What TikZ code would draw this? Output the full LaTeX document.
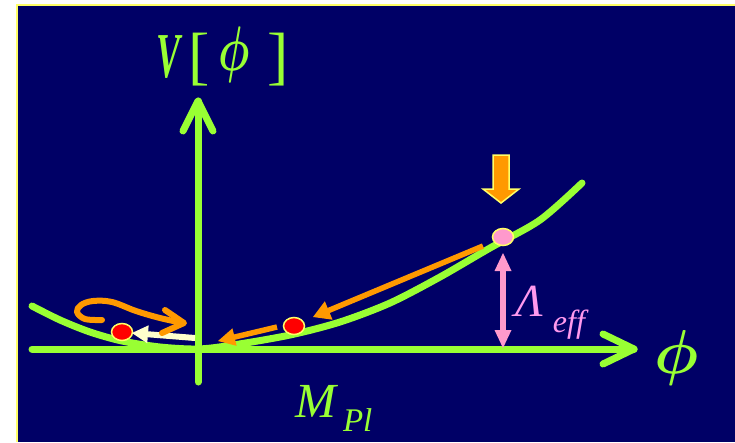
\documentclass[tikz,border=0pt]{standalone}
\usepackage{graphicx}
\usepackage{fontspec}
\setmainfont{Liberation Serif}
\DeclareFontShape{OML}{cmm}{m}{it}{<-> cmmi10}{}
\DeclareFontShape{OML}{cmm}{b}{it}{<-> cmmib10}{}
\newcommand{\bphi}{{\usefont{OML}{cmm}{b}{it}\char"1E}}
\usetikzlibrary{shapes.geometric,calc}
\definecolor{navy}{HTML}{000066}
\definecolor{lime}{HTML}{99FF33}
\definecolor{orng}{HTML}{FF9900}
\definecolor{pinkc}{HTML}{FF99CC}
\definecolor{pinktxt}{HTML}{FF99EE}
\definecolor{cream}{HTML}{FFFFCC}
\definecolor{yel}{HTML}{FFFF66}
\definecolor{redc}{HTML}{FF0000}
% filled triangular head: colour, tip, from, length, half width
\newcommand{\arrowhd}[5]{%
  \coordinate (tmpb) at ($(#2)!#4!(#3)$);
  \fill[#1] (#2) -- ($(tmpb)!#5!90:(#2)$) -- ($(tmpb)!#5!-90:(#2)$) -- cycle;}
\begin{document}
\begin{tikzpicture}[x=1pt,y=-1pt,
  axisline/.style={draw=lime,line width=7pt,line cap=round,line join=round},
  potential/.style={draw=lime,line width=7pt,line cap=round},
  ball/.style={ellipse,draw=yel,line width=1.5pt,minimum width=21pt,minimum height=17pt,inner sep=0pt},
  shaft/.style={line width=5.5pt},
  lbl/.style={inner sep=0pt,anchor=base west}
]
\useasboundingbox (0,0) rectangle (735,442);
\fill[white] (0,0) rectangle (735,442);
\fill[navy] (17,5) rectangle (735,442);
\draw[yel,line width=2pt] (17,442) -- (17,5) -- (735,5);

% axes
\coordinate (xl) at (32,349);
\coordinate (xt) at (634,349);
\coordinate (yb) at (198,382);
\coordinate (yt) at (198,101);
\draw[axisline] (xl) -- (xt);
\draw[axisline] (603,334) -- (xt) -- (603,364);
\draw[axisline] (yb) -- (yt);
\draw[axisline] (183,131) -- (yt) -- (213,131);

% potential curve
\draw[potential] plot[smooth,tension=0.5] coordinates {(32,306) (60,320) (90,332) (122,341) (160,347) (198,349) (233,345) (290,335) (340,322) (390,303) (440,277) (490,248) (540,220) (582,183)};

% balls
\node[ball,fill=pinkc] (pb) at (503,237) {};
\node[ball,fill=redc] (rb2) at (294,326) {};
\node[ball,fill=redc] (rb1) at (122,332) {};

% orange flow arrows
\coordinate (a1s) at (483,246);
\coordinate (a1e) at (313,317);
\draw[orng,shaft] (a1s) -- ($(a1e)!15pt!(a1s)$);
\arrowhd{orng}{a1e}{a1s}{17pt}{10pt}
\coordinate (a2s) at (277,327);
\coordinate (a2e) at (218,341);
\draw[orng,shaft] (a2s) -- ($(a2e)!15pt!(a2s)$);
\arrowhd{orng}{a2e}{a2s}{17pt}{9pt}
% cream arrow
\coordinate (a3s) at (195,338);
\coordinate (a3e) at (132,333);
\draw[cream,line width=6pt] (a3s) -- ($(a3e)!14pt!(a3s)$);
\arrowhd{cream}{a3e}{a3s}{16pt}{9pt}

% curly orange arrow
\draw[draw=orng,line width=6pt,line cap=round,line join=round] plot[smooth,tension=0.6] coordinates {(102,320) (85,319) (77,312) (81,305) (93,301) (112,302) (136,311) (160,318) (183,323)};
\draw[draw=orng,line width=6pt,line cap=round,line join=round] (165,310) -- (184,323) -- (162,333);

% pink double arrow
\coordinate (lt) at (503,253);
\coordinate (lb) at (503,348);
\draw[pinkc,line width=6.5pt] ($(lt)!15pt!(lb)$) -- ($(lb)!15pt!(lt)$);
\arrowhd{pinkc}{lt}{lb}{18pt}{8.5pt}
\arrowhd{pinkc}{lb}{lt}{18pt}{8.5pt}

% block down arrow
\draw[fill=orng,draw=yel,line width=1.5pt,line join=miter] (493,155) -- (509,155) -- (509,189) -- (519,189) -- (501,203) -- (483,189) -- (493,189) -- cycle;

% labels
\node[lbl,text=lime,font=\fontsize{64}{64}\selectfont] (vlab) at (156,77) {\scalebox{0.56}[1]{\bfseries\itshape V}\hspace{8pt}[\hspace{9.5pt}\raisebox{6.3pt}{\scalebox{1}[1.43]{\fontsize{44}{44}\selectfont\bphi}}\hspace{17pt}]};
\node[lbl,text=lime,font=\fontsize{62}{62}\selectfont] (philab) at (654,373) {\bphi};
\node[lbl,text=lime] (mpl) at (295,417) {\fontsize{49}{49}\selectfont\itshape M\hspace{7pt}\fontsize{33}{33}\selectfont\raisebox{-14pt}{Pl}};
\node[lbl,text=pinktxt] (lam) at (515,316) {\fontsize{46}{46}\selectfont\itshape Λ\hspace{10pt}\fontsize{32}{32}\selectfont\raisebox{-16pt}{eff}};
\end{tikzpicture}
\end{document}
